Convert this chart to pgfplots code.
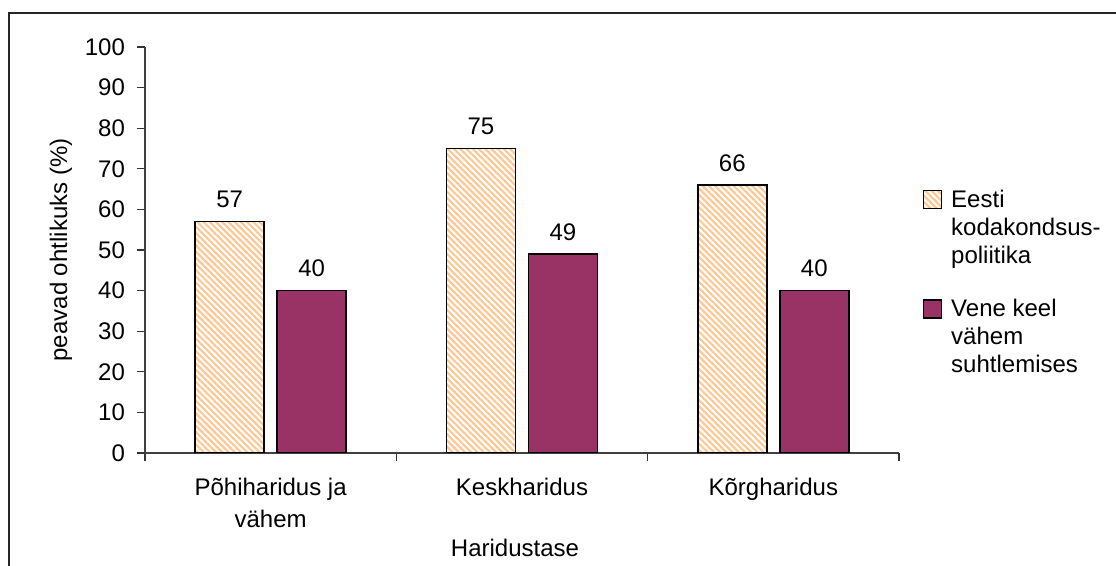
\documentclass[border=0pt]{standalone}
\usepackage{fontspec}
\setmainfont{Liberation Sans}
\usepackage{pgfplots}
\pgfplotsset{compat=1.18}
\usetikzlibrary{patterns.meta}
\definecolor{barpurple}{HTML}{993366}
\definecolor{hatchcol}{HTML}{FFC794}

\begin{document}
\begin{tikzpicture}
\useasboundingbox (0,0) rectangle (558pt,283pt);
\draw[line width=0.9pt, black!85] (4.5pt,0) -- (4.5pt,276.5pt) -- (558pt,276.5pt);
\begin{axis}[
  at={(72.5pt,56.5pt)}, anchor=south west,
  scale only axis, width=377pt, height=203pt,
  font=\fontsize{12}{14}\selectfont,
  /pgf/number format/assume math mode=true,
  ybar=6.5pt, bar width=34.5pt,
  ymin=0, ymax=100, ytick={0,10,...,100},
  xmin=-0.5, xmax=2.5,
  xtick={-0.5,0.5,1.5,2.5},
  x tick label as interval,
  xticklabels={Põhiharidus ja\\vähem, Keskharidus, Kõrgharidus},
  x tick label style={align=center, font=\fontsize{12}{16}\selectfont, yshift=-5pt},
  yticklabel style={xshift=-2.5pt},
  axis x line=bottom, axis y line=left,
  axis line style={-, black!75, line width=0.6pt},
  tick style={black!80, line width=0.6pt},
  tick align=outside, major tick length=4pt,
  xlabel={Haridustase},
  xlabel style={at={(axis description cs:0.4907,0)}, anchor=base, yshift=-52pt},
  ylabel={peavad ohtlikuks (\%)},
  ylabel style={at={(axis description cs:-0.1034,0.5)}, anchor=base},
  nodes near coords,
  every node near coord/.append style={font=\fontsize{12}{14}\selectfont, yshift=3pt, black},
  legend style={draw=none, fill=none, at={(rel axis cs:1.023,0.668)}, anchor=north west,
    font=\fontsize{12}{14}\selectfont, row sep=12.5pt,
    /tikz/every odd column/.append style={column sep=2.5pt},
    cells={anchor=base west, align=left}},
  % square aligned with the first of three text lines
  legend image code/.code={\draw[#1] (0pt,27.5pt) rectangle (9pt,36.5pt);},
]
\addplot[draw=black, line width=0.75pt, pattern={Lines[angle=-45, distance=2.2pt, line width=1.1pt]}, pattern color=hatchcol]
  coordinates {(0,57) (1,75) (2,66)};
\addlegendentry{Eesti\\kodakondsus-\\poliitika}
\addplot[draw=black, line width=0.75pt, fill=barpurple]
  coordinates {(0,40) (1,49) (2,40)};
\addlegendentry{Vene keel\\vähem\\suhtlemises}
\end{axis}
\end{tikzpicture}
\end{document}
